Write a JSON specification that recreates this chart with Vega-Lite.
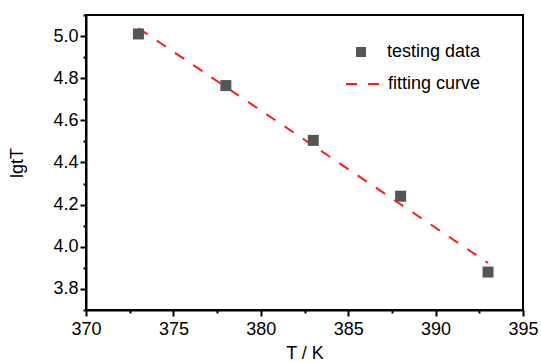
{
  "$schema": "https://vega.github.io/schema/vega-lite/v6.json",
  "width": 437,
  "height": 295,
  "autosize": {"type": "none"},
  "padding": {"left": 86, "top": 15, "right": 18, "bottom": 53},
  "background": "white",
  "config": {
    "view": {"stroke": "black", "strokeWidth": 2},
    "font": "Liberation Sans",
    "axis": {
      "domainColor": "black", "domainWidth": 2, "tickColor": "black", "tickWidth": 2,
      "labelColor": "black", "titleColor": "black", "labelFontSize": 18, "titleFontSize": 18,
      "titleFontWeight": "normal", "labelFont": "Liberation Sans", "titleFont": "Liberation Sans",
      "grid": false
    },
    "legend": {"labelFont": "Liberation Sans", "labelFontSize": 18, "labelColor": "black", "padding": 0}
  },
  "datasets": {
    "testing": [
      {"T": 373, "lgt": 5.01, "series": "testing data"},
      {"T": 378, "lgt": 4.765, "series": "testing data"},
      {"T": 383, "lgt": 4.505, "series": "testing data"},
      {"T": 388, "lgt": 4.24, "series": "testing data"},
      {"T": 393, "lgt": 3.88, "series": "testing data"}
    ],
    "fit": [
      {"T": 373, "lgt": 5.037, "series": "fitting curve"},
      {"T": 393, "lgt": 3.923, "series": "fitting curve"}
    ]
  },
  "layer": [
    {
      "data": {"name": "fit"},
      "mark": {"type": "line", "color": "#ff1a1a", "strokeWidth": 2},
      "encoding": {
        "x": {"field": "T", "type": "quantitative",
          "scale": {"domain": [370, 395], "nice": false, "zero": false},
          "axis": {"title": "T / K", "values": [370, 372.5, 375, 377.5, 380, 382.5, 385, 387.5, 390, 392.5, 395],
            "labelExpr": "datum.value % 5 == 0 ? datum.label : ''",
            "tickSize": {"condition": {"test": "datum.value % 5 == 0", "value": 6}, "value": 3},
            "labelPadding": 4, "titlePadding": 6, "labelFlush": false, "labelOverlap": false}},
        "y": {"field": "lgt", "type": "quantitative",
          "scale": {"domain": [3.7, 5.1], "nice": false, "zero": false},
          "axis": {"title": "lgtT", "orient": "left", "values": [3.8, 4.0, 4.2, 4.4, 4.6, 4.8, 5.0],
            "format": ".1f", "tickSize": 6,
            "labelPadding": 2, "titlePadding": 26, "labelFlush": false, "labelOverlap": false}},
        "strokeDash": {"field": "series", "type": "nominal",
          "scale": {"domain": ["fitting curve"], "range": [[11, 11]]},
          "legend": {"title": null, "orient": "none", "legendX": 259, "legendY": 50,
            "symbolType": "stroke", "symbolSize": 1296, "symbolStrokeColor": "#ff1a1a", "symbolStrokeWidth": 2,
            "labelOffset": 5}}
      }
    },
    {
      "data": {"name": "testing"},
      "mark": {"type": "point", "shape": "square", "filled": true, "size": 121, "opacity": 1},
      "encoding": {
        "x": {"field": "T", "type": "quantitative"},
        "y": {"field": "lgt", "type": "quantitative",
          "axis": {"title": null, "orient": "left", "values": [3.7, 3.9, 4.1, 4.3, 4.5, 4.7, 4.9, 5.1],
            "labels": false, "tickSize": 3, "domain": false}},
        "color": {"field": "series", "type": "nominal",
          "scale": {"domain": ["testing data"], "range": ["#555555"]},
          "legend": {"title": null, "orient": "none", "legendX": 266, "legendY": 28,
            "symbolType": "square", "symbolSize": 100, "symbolOpacity": 1, "labelOffset": 17}}
      }
    }
  ],
  "resolve": {"scale": {"color": "independent", "strokeDash": "independent"}, "axis": {"y": "independent"}, "legend": {"color": "independent", "strokeDash": "independent"}}
}
